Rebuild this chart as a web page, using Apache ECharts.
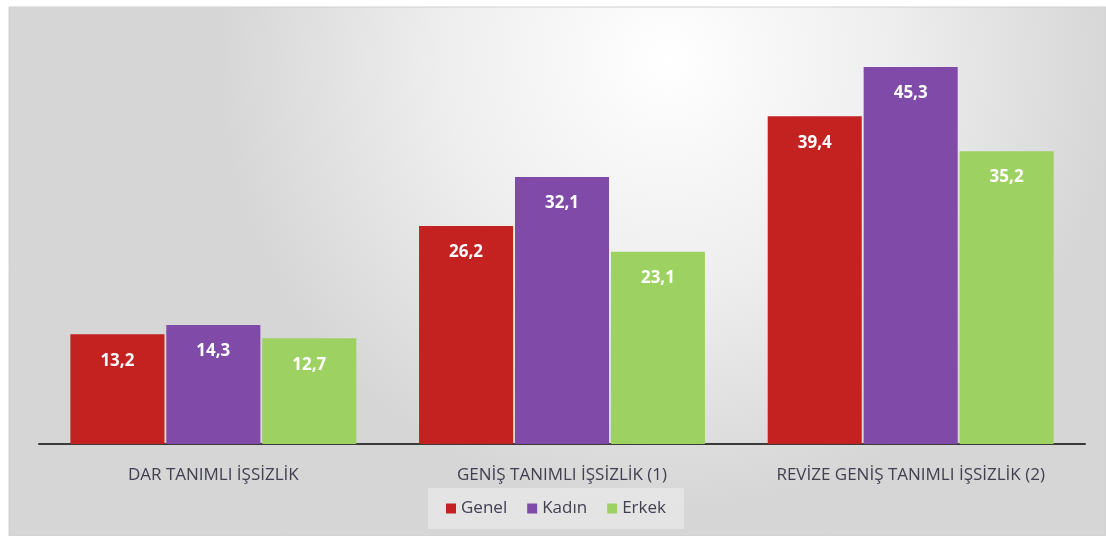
<!DOCTYPE html>
<html>
<head>
<meta charset="utf-8">
<script src="https://cdn.jsdelivr.net/npm/echarts@6/dist/echarts.min.js"></script>
<style>
  html, body { margin: 0; padding: 0; background: #fff; }
  #chart { width: 1106px; height: 536px; }
</style>
</head>
<body>
<div id="chart"></div>
<script>
// Kategoriler ve seriler
const categories = ['DAR TANIMLI İŞSİZLİK', 'GENİŞ TANIMLI İŞSİZLİK (1)', 'REVİZE GENİŞ TANIMLI İŞSİZLİK (2)'];
const genel = [13.2, 26.2, 39.4];
const kadin = [14.3, 32.1, 45.3];
const erkek = [12.7, 23.1, 35.2];

const seriesNames = ['Genel', 'Kadın', 'Erkek'];
const seriesColors = ['#c42121', '#7f4aa8', '#9dd262'];
const seriesData = [genel, kadin, erkek];

const myChart = echarts.init(document.getElementById('chart'), null, { renderer: 'canvas' });

const option = {
    animation: false,
    graphic: [
        {
            type: 'rect',
            z: -10,
            silent: true,
            shape: { x: 9, y: 7, width: 1097, height: 529 },
            style: {
                fill: new echarts.graphic.RadialGradient(0.6, 0.1, 0.85, [
                    { offset: 0, color: '#ffffff' },
                    { offset: 0.5, color: '#eeeeee' },
                    { offset: 1, color: '#d6d6d6' }
                ]),
                stroke: '#d0d0d0',
                lineWidth: 1
            }
        }
    ],
    grid: { left: 39, right: 21, top: 28, bottom: 92 },
    legend: {
        data: seriesNames,
        top: 488,
        left: 428,
        padding: [12, 18, 12, 18],
        backgroundColor: 'rgba(240,240,240,0.55)',
        itemWidth: 10,
        itemHeight: 10,
        itemGap: 20,
        icon: 'rect',
        textStyle: { color: '#404050', fontSize: 17, fontFamily: 'Open Sans' }
    },
    xAxis: {
        type: 'category',
        data: categories,
        axisTick: { show: false },
        axisLine: { lineStyle: { color: '#3a3a3a', width: 2 } },
        axisLabel: {
            interval: 0,
            hideOverlap: false,
            color: '#404050',
            fontSize: 17,
            fontFamily: 'Open Sans',
            margin: 23
        }
    },
    yAxis: {
        type: 'value',
        min: 0,
        max: 50,
        show: false
    },
    series: seriesNames.map((name, i) => ({
        name: name,
        type: 'bar',
        data: seriesData[i],
        barGap: '2%',
        barCategoryGap: '18%',
        itemStyle: { color: seriesColors[i] },
        label: {
            show: true,
            position: 'insideTop',
            distance: 18,
            color: '#ffffff',
            fontWeight: 'bold',
            fontSize: 17,
            fontFamily: 'Open Sans',
            formatter: p => String(p.value).replace('.', ',')
        }
    }))
};

myChart.setOption(option);
</script>
</body>
</html>
